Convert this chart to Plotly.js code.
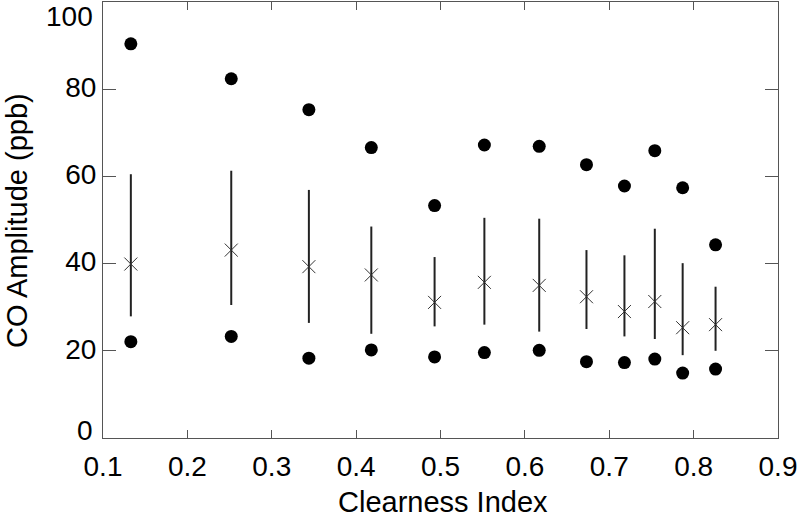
<!DOCTYPE html>
<html>
<head>
<meta charset="utf-8">
<script src="https://cdn.plot.ly/plotly-3.0.1.min.js"></script>
<style>
  html, body { margin: 0; padding: 0; background: #fff; }
  #chart { width: 799px; height: 519px; }
</style>
</head>
<body>
<div id="chart"></div>
<script>
// clearness index bins
const clearness = [0.133, 0.252, 0.344, 0.418, 0.493, 0.552, 0.617, 0.673, 0.718, 0.754, 0.787, 0.826];
// CO amplitude (ppb) per bin
const maxAmp  = [90.4, 82.4, 75.3, 66.6, 53.3, 67.2, 66.9, 62.7, 57.8, 65.9, 57.4, 44.3];
const upperQ  = [60.5, 61.3, 56.9, 48.5, 41.5, 50.5, 50.3, 43.1, 41.9, 48.0, 40.1, 34.7];
const median  = [39.9, 43.1, 39.3, 37.4, 31.1, 35.7, 35.0, 32.4, 29.0, 31.3, 25.3, 26.0];
const lowerQ  = [27.9, 30.5, 26.4, 23.9, 25.6, 26.0, 24.4, 25.0, 23.3, 22.7, 19.0, 20.0];
const minAmp  = [22.1, 23.3, 18.3, 20.2, 18.6, 19.6, 20.1, 17.5, 17.3, 18.1, 14.9, 15.8];

const yTicks = [0, 20, 40, 60, 80, 100];
const xTicks = [0.1, 0.2, 0.3, 0.4, 0.5, 0.6, 0.7, 0.8, 0.9];

const FONT = "Liberation Sans, Arial, Helvetica, sans-serif";
const TICK_SIZE = 28;
const TITLE_SIZE = 29;

const traces = [
  {
    x: clearness,
    y: median,
    type: "scatter",
    mode: "markers",
    marker: { symbol: "x-thin-open", size: 13, color: "#333", line: { width: 1, color: "#333" } },
    error_y: {
      type: "data",
      symmetric: false,
      array: upperQ.map((v, i) => v - median[i]),
      arrayminus: median.map((v, i) => v - lowerQ[i]),
      width: 0,
      thickness: 2,
      color: "#222"
    },
    hoverinfo: "x+y"
  },
  {
    x: clearness.concat(clearness),
    y: maxAmp.concat(minAmp),
    type: "scatter",
    mode: "markers",
    marker: { symbol: "circle", size: 13, color: "#000" },
    hoverinfo: "x+y"
  }
];

const axisCommon = {
  showline: true,
  linecolor: "#555",
  linewidth: 1,
  mirror: "ticks",
  ticks: "inside",
  tickcolor: "#555",
  tickwidth: 1,
  showgrid: false,
  zeroline: false,
  tickfont: { family: FONT, size: TICK_SIZE, color: "#000" }
};

// the end labels on the y axis sit pulled inside the frame, so they are drawn as annotations
const endLabel = (v, yanchor, yshift) => ({
  xref: "paper", yref: "y",
  x: 0, y: v,
  xanchor: "right", yanchor: yanchor,
  xshift: -9, yshift: yshift,
  borderpad: 0,
  text: String(v),
  showarrow: false,
  font: { family: FONT, size: TICK_SIZE, color: "#000" }
});

const layout = {
  width: 799,
  height: 519,
  margin: { l: 103, r: 21, t: 2, b: 81 },
  paper_bgcolor: "#fff",
  plot_bgcolor: "#fff",
  showlegend: false,
  font: { family: FONT, color: "#000" },
  xaxis: Object.assign({}, axisCommon, {
    range: [0.1, 0.9],
    tickvals: xTicks,
    ticktext: xTicks.map(v => v.toFixed(1)),
    ticklen: 8,
    ticklabelstandoff: 3
  }),
  yaxis: Object.assign({}, axisCommon, {
    range: [0, 100],
    tickvals: yTicks,
    ticktext: yTicks.map(v => (v === 0 || v === 100) ? "" : String(v)),
    ticklabelshift: -2,
    ticklen: 13
  }),
  annotations: [
    endLabel(100, "top", 2),
    endLabel(0, "bottom", -9),
    {
      xref: "paper", yref: "paper", x: 0.5, y: 0,
      xanchor: "center", yanchor: "bottom", xshift: 2, yshift: -81,
      borderpad: 0,
      text: "Clearness Index", showarrow: false,
      font: { family: FONT, size: TITLE_SIZE, color: "#000" }
    },
    {
      xref: "paper", yref: "paper", x: 0, y: 0.5,
      xanchor: "left", yanchor: "middle", xshift: -103, yshift: -1,
      borderpad: 0,
      textangle: -90,
      text: "CO Amplitude (ppb)", showarrow: false,
      font: { family: FONT, size: TITLE_SIZE, color: "#000" }
    }
  ]
};

Plotly.newPlot("chart", traces, layout, { displayModeBar: false, staticPlot: true });
</script>
</body>
</html>
